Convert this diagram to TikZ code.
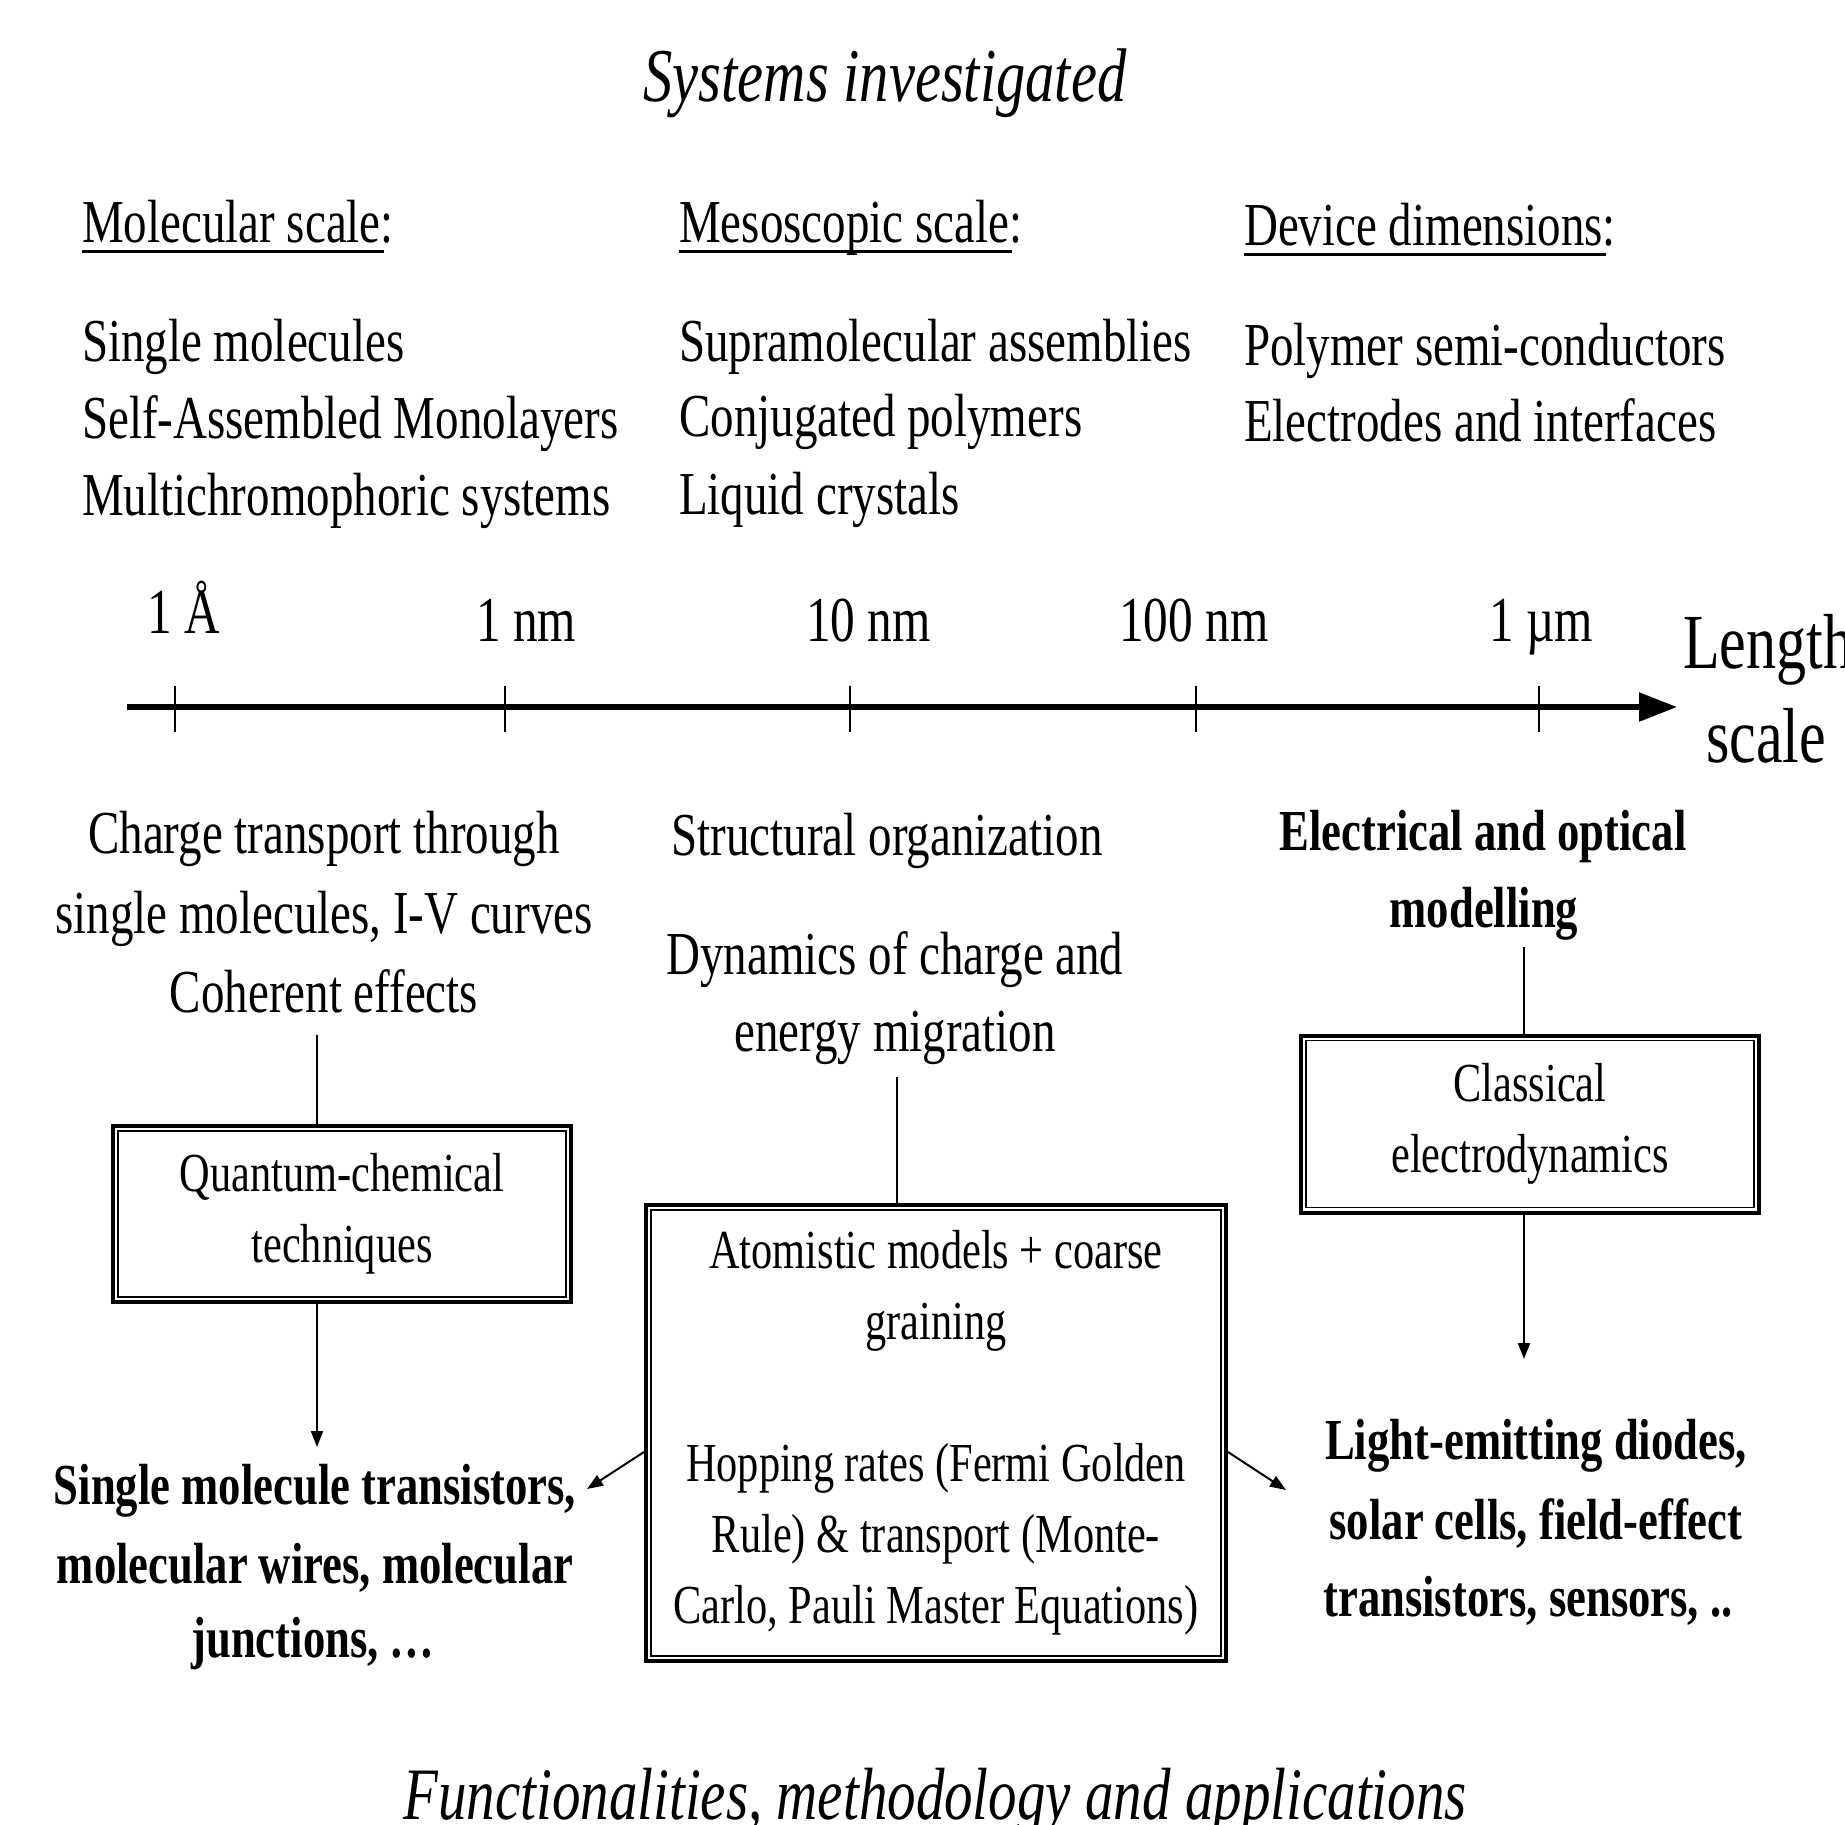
\documentclass[tikz,border=0pt]{standalone}
\usepackage{fontspec}
\setmainfont[FakeStretch=0.77]{Liberation Serif}
\usetikzlibrary{arrows.meta}
\begin{document}
\begin{tikzpicture}[x=1pt,y=-1pt,
  item/.style={inner sep=0pt, anchor=base west, font=\fontsize{61}{78}\selectfont},
  ctext/.style={inner sep=0pt, anchor=base, font=\fontsize{61}{78}\selectfont},
  btext/.style={inner sep=0pt, anchor=base, font=\fontsize{58}{78}\selectfont\bfseries},
  scalelab/.style={inner sep=0pt, anchor=base west, font=\fontsize{64}{78}\selectfont},
  lenlab/.style={inner sep=0pt, anchor=base west, font=\fontsize{78}{90}\selectfont},
  ttl/.style={inner sep=0pt, anchor=base, font=\fontsize{76}{90}\selectfont\itshape},
  method/.style={draw, line width=4pt, inner sep=0pt, align=center, font=\fontsize{55}{71}\selectfont},
  innerframe/.style={line width=1.6pt},
  conn/.style={line width=2pt},
  arr/.style={line width=2pt, -{Triangle[length=16pt,width=12pt]}},
  uline/.style={line width=3pt},
  tick/.style={line width=2pt},
  axis/.style={line width=5.5pt, -{Triangle[length=38pt,width=28pt]}}
]
\useasboundingbox (0,0) rectangle (1845,1824);
\clip (0,0) rectangle (1845,1824);
\fill[white] (0,0) rectangle (1845,1824);

% titles
\node[ttl] (title) at (885,101) {Systems investigated};
\node[ttl, font=\fontsize{74}{90}\selectfont\itshape] (btitle) at (935,1819) {Functionalities, methodology and applications};

% headings
\node[item] (h1) at (82,242) {Molecular scale:};
\node[item] (h2) at (679,242) {Mesoscopic scale:};
\node[item] (h3) at (1244,245) {Device dimensions:};
\foreach \h in {h1,h2,h3}
  \draw[uline] ([yshift=-9pt]\h.base west) -- ([xshift=-10pt,yshift=-9pt]\h.base east);

% systems
\node[item] (a1) at (82,361) {Single molecules};
\node[item] (a2) at (82,438) {Self-Assembled Monolayers};
\node[item] (a3) at (82,515) {Multichromophoric systems};
\node[item] (b1) at (679,361) {Supramolecular assemblies};
\node[item] (b2) at (679,436) {Conjugated polymers};
\node[item] (b3) at (679,514) {Liquid crystals};
\node[item] (c1) at (1244,365) {Polymer semi-conductors};
\node[item] (c2) at (1244,441) {Electrodes and interfaces};

% axis
\coordinate (axs) at (127,707);
\coordinate (axe) at (1677,707);
\draw[axis] (axs) -- (axe);
\foreach \x [count=\i] in {175,505,850,1196,1539} {
  \coordinate (tk\i) at (\x,707);
  \draw[tick] ([yshift=21pt]tk\i) -- ([yshift=-25pt]tk\i);
}
\node[scalelab] (s1) at (147,633) {1 Å};
\node[scalelab] (s2) at (476,641) {1 nm};
\node[scalelab] (s3) at (806,641) {10 nm};
\node[scalelab] (s4) at (1119,641) {100 nm};
\node[scalelab] (s5) at (1489,641) {1 µm};
\node[lenlab] (len1) at (1683,668) {Length};
\node[lenlab] (len2) at (1706,762) {scale};

% functionalities
\node[ctext] (m1) at (324,853) {Charge transport through};
\node[ctext] (m2) at (324,933) {single molecules, I-V curves};
\node[ctext] (m3) at (324,1012) {Coherent effects};
\node[ctext] (n1) at (887,855) {Structural organization};
\node[ctext] (n2) at (895,974) {Dynamics of charge and};
\node[ctext] (n3) at (895,1051) {energy migration};
\node[btext] (o1) at (1483,850) {Electrical and optical};
\node[btext] (o2) at (1484,927) {modelling};

% method boxes
\node[method, minimum width=458pt, minimum height=176pt] (qb) at (342,1214) {Quantum-chemical\\techniques};
\node[method, minimum width=580pt, minimum height=456pt] (ab) at (936,1433)
  {Atomistic models + coarse\\graining\\[71pt]Hopping rates (Fermi Golden\\Rule) \& transport (Monte-\\Carlo, Pauli Master Equations)};
\node[method, minimum width=458pt, minimum height=177pt] (cb) at (1530,1124) {Classical\\electrodynamics};
\foreach \b in {qb,ab,cb}
  \draw[innerframe] ([xshift=7pt,yshift=-7pt]\b.north west) rectangle ([xshift=-7pt,yshift=7pt]\b.south east);

% applications
\node[btext] (p1) at (315,1504) {Single molecule transistors,};
\node[btext] (p2) at (315,1583) {molecular wires, molecular};
\node[btext] (p3) at (313,1657) {junctions, …};
\node[btext] (r1) at (1536,1459) {Light-emitting diodes,};
\node[btext] (r2) at (1536,1539) {solar cells, field-effect};
\node[btext] (r3) at (1528,1616) {transistors, sensors, ..};

% connectors
\coordinate (qarr) at (317,1447);
\coordinate (parr) at (587,1489);
\coordinate (rarr) at (1286,1490);
\coordinate (cin) at (1524,947);
\coordinate (carr) at (1524,1359);
\draw[conn] ([xshift=-7pt,yshift=-22pt]m3.south) -- ([xshift=-25pt]qb.north);
\draw[arr] ([xshift=-25pt]qb.south) -- (qarr);
\draw[conn] ([xshift=2pt,yshift=-13pt]n3.south) -- ([xshift=2pt]n3.south |- ab.north);
\draw[arr] ([yshift=-19pt]ab.west) -- (parr);
\draw[arr] ([yshift=-19pt]ab.east) -- (rarr);
\draw[conn] (cin) -- ([xshift=-6pt]cb.north);
\draw[arr] ([xshift=-6pt]cb.south) -- (carr);
\end{tikzpicture}
\end{document}
